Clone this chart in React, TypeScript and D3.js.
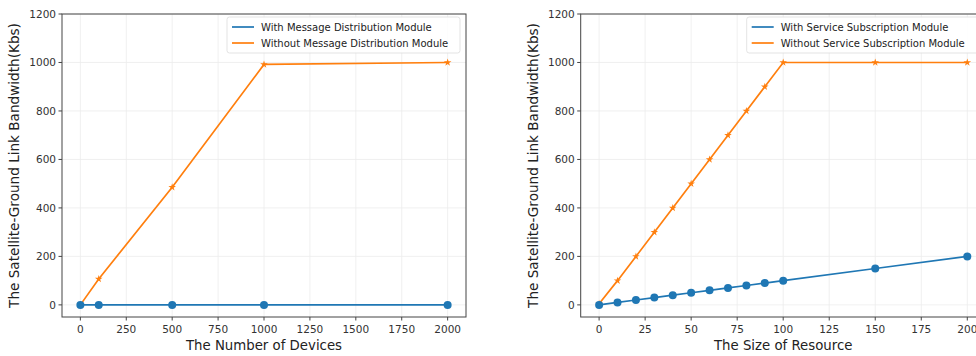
import * as d3 from 'd3';

// Left panel: number of devices
const devices = [0, 100, 500, 1000, 2000];
const withMessage = [0, 0, 0, 0, 0];
const withoutMessage = [0, 107, 485, 992, 1000];
const devicesTicks = [0, 250, 500, 750, 1000, 1250, 1500, 1750, 2000];

// Right panel: size of resource
const resource = [0, 10, 20, 30, 40, 50, 60, 70, 80, 90, 100, 150, 200];
const withService = [0, 10, 20, 30, 40, 50, 60, 70, 80, 90, 100, 150, 200];
const withoutService = [5, 100, 200, 300, 400, 500, 600, 700, 800, 900, 1000, 1000, 1000];
const resourceTicks = [0, 25, 50, 75, 100, 125, 150, 175, 200];

const yTicks = [0, 200, 400, 600, 800, 1000, 1200];
const yLabel = 'The Satellite-Ground Link Bandwidth(Kbs)';

const BLUE = '#1f77b4';
const ORANGE = '#ff7f0e';
const FONT = 'DejaVu Sans, sans-serif';

interface PanelProps {
    left: number;
    right: number;
    xDomain: [number, number];
    xs: number[];
    withVals: number[];
    withoutVals: number[];
    xTicks: number[];
    xLabel: string;
    labels: [string, string];
    yLabelX: number;
}

function Panel({ left, right, xDomain, xs, withVals, withoutVals, xTicks, xLabel, labels, yLabelX }: PanelProps) {
    const top = 14;
    const bottom = 317;
    const x = d3.scaleLinear().domain(xDomain).range([left, right]);
    const y = d3.scaleLinear().domain([-50, 1200]).range([bottom, top]);

    const line = d3.line<number>()
        .x((_, i) => x(xs[i]))
        .y(d => y(d));

    const star = d3.symbol().type(d3.symbolStar).size(18)()!;

    const legW = 233;
    const legX = right - 6 - legW;
    const legY = 17;

    return (
        <g>
            {/* grid */}
            {xTicks.map(t => (
                <line key={'gx' + t} x1={x(t)} x2={x(t)} y1={top} y2={bottom} stroke="#ececec" strokeWidth={0.8} />
            ))}
            {yTicks.map(t => (
                <line key={'gy' + t} x1={left} x2={right} y1={y(t)} y2={y(t)} stroke="#ececec" strokeWidth={0.8} />
            ))}

            {/* series */}
            <path d={line(withoutVals)!} fill="none" stroke={ORANGE} strokeWidth={1.7} />
            {withoutVals.map((v, i) => (
                <path key={'o' + i} d={star} transform={`translate(${x(xs[i])},${y(v)})`} fill={ORANGE} />
            ))}
            <path d={line(withVals)!} fill="none" stroke={BLUE} strokeWidth={1.7} />
            {withVals.map((v, i) => (
                <circle key={'b' + i} cx={x(xs[i])} cy={y(v)} r={4} fill={BLUE} />
            ))}

            {/* frame */}
            <rect x={left} y={top} width={right - left} height={bottom - top} fill="none" stroke="#444" strokeWidth={1} />

            {/* x axis */}
            {xTicks.map(t => (
                <g key={'xt' + t}>
                    <line x1={x(t)} x2={x(t)} y1={bottom} y2={bottom + 3.5} stroke="#444" />
                    <text x={x(t)} y={bottom + 16} textAnchor="middle" fontSize={10.5} fill="#333">{t}</text>
                </g>
            ))}
            <text x={(left + right) / 2} y={350} textAnchor="middle" fontSize={13.3} fill="#222">{xLabel}</text>

            {/* y axis */}
            {yTicks.map(t => (
                <g key={'yt' + t}>
                    <line x1={left - 3.5} x2={left} y1={y(t)} y2={y(t)} stroke="#444" />
                    <text x={left - 6} y={y(t) + 3.8} textAnchor="end" fontSize={10.5} fill="#333">{t}</text>
                </g>
            ))}
            <text transform={`translate(${yLabelX},${(top + bottom) / 2}) rotate(-90)`} textAnchor="middle" fontSize={13.6} fill="#222">{yLabel}</text>

            {/* legend */}
            <rect x={legX} y={legY} width={legW} height={36} rx={2.5} fill="white" fillOpacity={0.85} stroke="#dcdcdc" strokeWidth={0.8} />
            <line x1={legX + 5} x2={legX + 27} y1={legY + 10} y2={legY + 10} stroke={BLUE} strokeWidth={1.7} />
            <text x={legX + 34} y={legY + 13.5} fontSize={10} fill="#222">{labels[0]}</text>
            <line x1={legX + 5} x2={legX + 27} y1={legY + 26} y2={legY + 26} stroke={ORANGE} strokeWidth={1.7} />
            <text x={legX + 34} y={legY + 29.5} fontSize={10} fill="#222">{labels[1]}</text>
        </g>
    );
}

export default function App() {
    return (
        <svg
            width={976}
            height={356}
            style={{ position: 'absolute', left: 0, top: 0, background: 'white' }}
            fontFamily={FONT}
        >
            <rect width={976} height={356} fill="white" />
            <Panel
                left={62}
                right={466}
                xDomain={[-100, 2100]}
                xs={devices}
                withVals={withMessage}
                withoutVals={withoutMessage}
                xTicks={devicesTicks}
                xLabel="The Number of Devices"
                labels={['With Message Distribution Module', 'Without Message Distribution Module']}
                yLabelX={19}
            />
            <Panel
                left={580.7}
                right={985.7}
                xDomain={[-10, 210]}
                xs={resource}
                withVals={withService}
                withoutVals={withoutService}
                xTicks={resourceTicks}
                xLabel="The Size of Resource"
                labels={['With Service Subscription Module', 'Without Service Subscription Module']}
                yLabelX={538}
            />
        </svg>
    );
}
